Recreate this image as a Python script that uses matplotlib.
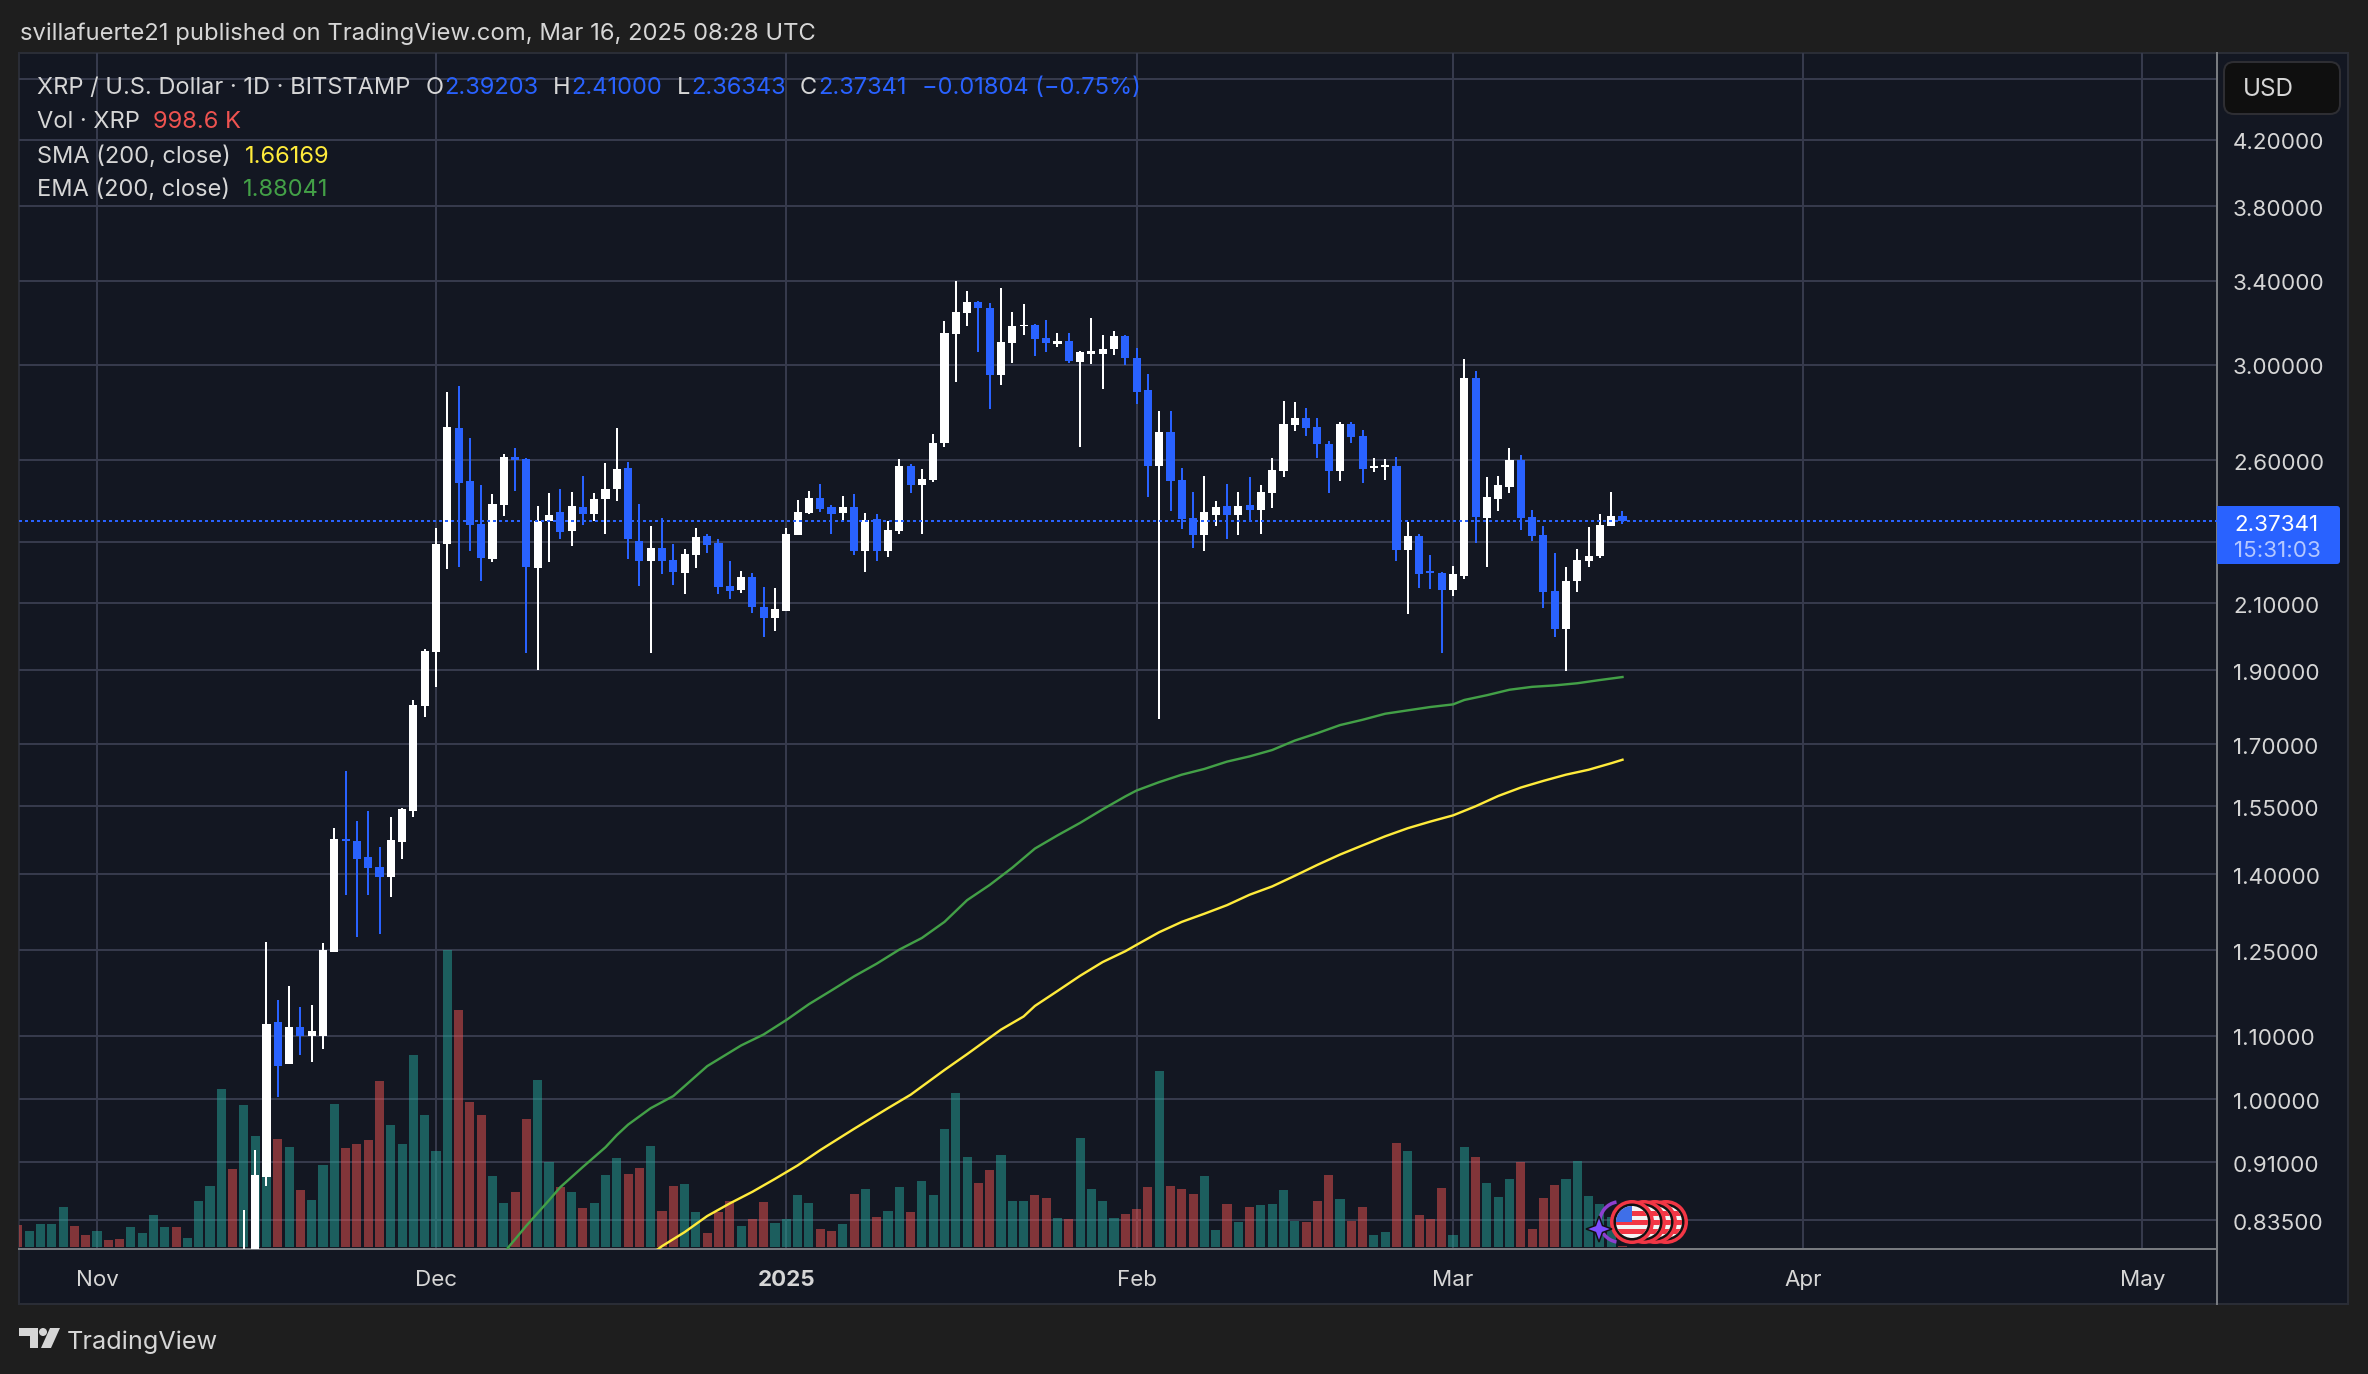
#XRP daily candles, TradingView dark layout
import matplotlib
matplotlib.use("Agg")
import matplotlib.pyplot as plt
from matplotlib.patches import Rectangle, FancyBboxPatch, Polygon, Circle, Wedge
from matplotlib.ticker import NullLocator
from matplotlib.transforms import ScaledTranslation

plt.rcParams["font.family"] = ["Inter", "DejaVu Sans"]

#data, days counted from Nov 1 2024
candle_start = 13
opens = [0.75, 0.78, 0.891, 1.122, 1.055, 1.115, 1.10, 1.10, 1.247, 1.477,
         1.472, 1.436, 1.415, 1.395, 1.47, 1.54, 1.802, 1.953, 2.295, 2.73,
         2.52, 2.365, 2.243, 2.432, 2.612, 2.604, 2.214, 2.373, 2.406, 2.34,
         2.425, 2.40, 2.452, 2.49, 2.57, 2.306, 2.237, 2.28, 2.24, 2.197,
         2.257, 2.323, 2.296, 2.156, 2.142, 2.185, 2.088, 2.055, 2.076, 2.325,
         2.402, 2.457, 2.424, 2.402, 2.424, 2.27, 2.38, 2.27, 2.34, 2.578,
         2.505, 2.523, 2.667, 3.14, 3.24, 3.294, 3.265, 2.953, 3.10, 3.176,
         3.185, 3.122, 3.095, 3.108, 3.013, 3.05, 3.05, 3.07, 3.13, 3.03,
         2.886, 2.578, 2.712, 2.524, 2.384, 2.325, 2.395, 2.428, 2.395, 2.432,
         2.413, 2.477, 2.56, 2.742, 2.771, 2.733, 2.663, 2.56, 2.746, 2.695,
         2.57, 2.574, 2.578, 2.274, 2.322, 2.205, 2.198, 2.143, 2.188, 2.942,
         2.384, 2.454, 2.50, 2.60, 2.388, 2.325, 2.139, 2.02, 2.17, 2.238,
         2.252, 2.355, 2.39203]
highs = [0.848, 0.927, 1.265, 1.16, 1.185, 1.148, 1.152, 1.264, 1.50, 1.634,
         1.516, 1.54, 1.458, 1.525, 1.547, 1.818, 1.962, 2.35, 2.88, 2.906,
         2.688, 2.507, 2.472, 2.624, 2.65, 2.608, 2.43, 2.475, 2.49, 2.48,
         2.54, 2.475, 2.59, 2.73, 2.594, 2.435, 2.355, 2.386, 2.293, 2.277,
         2.35, 2.33, 2.312, 2.238, 2.205, 2.198, 2.152, 2.149, 2.351, 2.45,
         2.483, 2.508, 2.432, 2.465, 2.472, 2.402, 2.399, 2.373, 2.604, 2.585,
         2.567, 2.703, 3.203, 3.40, 3.35, 3.30, 3.29, 3.365, 3.246, 3.284,
         3.19, 3.208, 3.146, 3.146, 3.06, 3.217, 3.136, 3.156, 3.136, 3.073,
         2.957, 2.797, 2.80, 2.57, 2.48, 2.54, 2.445, 2.51, 2.48, 2.535,
         2.505, 2.608, 2.84, 2.838, 2.81, 2.77, 2.675, 2.754, 2.754, 2.72,
         2.608, 2.604, 2.612, 2.37, 2.33, 2.257, 2.20, 2.22, 3.025, 2.97,
         2.537, 2.54, 2.65, 2.62, 2.413, 2.355, 2.265, 2.217, 2.277, 2.352,
         2.398, 2.48, 2.41]
lows = [0.72, 0.76, 0.878, 1.004, 1.055, 1.068, 1.058, 1.078, 1.247, 1.358,
        1.274, 1.358, 1.28, 1.354, 1.432, 1.525, 1.77, 1.852, 2.21, 2.217,
        2.27, 2.172, 2.232, 2.394, 2.485, 1.95, 1.90, 2.234, 2.31, 2.286,
        2.36, 2.375, 2.33, 2.445, 2.243, 2.155, 1.95, 2.195, 2.157, 2.13,
        2.212, 2.265, 2.13, 2.113, 2.133, 2.07, 1.995, 2.013, 2.076, 2.325,
        2.399, 2.406, 2.33, 2.37, 2.257, 2.20, 2.237, 2.25, 2.33, 2.476,
        2.33, 2.516, 2.654, 2.924, 3.18, 3.055, 2.807, 2.91, 3.008, 3.136,
        3.037, 3.055, 3.08, 3.008, 2.654, 3.003, 2.893, 3.045, 2.998, 2.83,
        2.46, 1.767, 2.41, 2.345, 2.28, 2.27, 2.355, 2.31, 2.325, 2.373,
        2.33, 2.42, 2.534, 2.715, 2.695, 2.607, 2.477, 2.52, 2.67, 2.512,
        2.553, 2.523, 2.238, 2.067, 2.149, 2.146, 1.95, 2.122, 2.176, 2.297,
        2.217, 2.41, 2.477, 2.343, 2.304, 2.085, 1.995, 1.897, 2.136, 2.217,
        2.245, 2.355, 2.36343]
closes = [0.79, 0.893, 1.119, 1.052, 1.115, 1.10, 1.107, 1.25, 1.477, 1.472,
          1.432, 1.413, 1.395, 1.474, 1.543, 1.804, 1.956, 2.295, 2.733, 2.512,
          2.36, 2.247, 2.435, 2.612, 2.60, 2.217, 2.376, 2.397, 2.336, 2.43,
          2.40, 2.455, 2.49, 2.566, 2.31, 2.237, 2.28, 2.237, 2.20, 2.26,
          2.32, 2.29, 2.152, 2.14, 2.185, 2.088, 2.055, 2.082, 2.329, 2.406,
          2.457, 2.417, 2.399, 2.424, 2.27, 2.377, 2.27, 2.344, 2.578, 2.505,
          2.527, 2.667, 3.146, 3.246, 3.294, 3.265, 2.953, 3.103, 3.18, 3.185,
          3.117, 3.10, 3.108, 3.017, 3.055, 3.06, 3.07, 3.13, 3.03, 2.878,
          2.578, 2.712, 2.52, 2.38, 2.325, 2.405, 2.424, 2.395, 2.428, 2.413,
          2.48, 2.563, 2.746, 2.771, 2.73, 2.663, 2.56, 2.746, 2.692, 2.567,
          2.578, 2.582, 2.274, 2.322, 2.195, 2.198, 2.143, 2.192, 2.942, 2.388,
          2.461, 2.505, 2.60, 2.384, 2.322, 2.136, 2.02, 2.17, 2.24, 2.255,
          2.36, 2.392, 2.37341]

volume_start = -7
volumes = [22, 16, 23, 23, 40, 21, 12, 16, 7, 8,
           20, 14, 32, 20, 20, 9, 46, 61, 158, 78,
           142, 111, 130, 108, 100, 57, 47, 82, 143, 99,
           103, 107, 166, 122, 103, 192, 132, 96, 297, 237,
           145, 132, 71, 44, 55, 128, 167, 85, 60, 55,
           39, 44, 72, 89, 73, 79, 101, 36, 61, 63,
           35, 14, 35, 46, 21, 28, 45, 24, 28, 52,
           44, 18, 16, 23, 53, 58, 30, 36, 60, 35,
           66, 52, 118, 154, 90, 64, 77, 92, 46, 46,
           52, 49, 29, 28, 109, 58, 46, 29, 33, 38,
           60, 176, 61, 58, 53, 71, 17, 43, 25, 40,
           42, 43, 57, 26, 25, 46, 72, 48, 26, 40,
           12, 15, 104, 96, 32, 28, 59, 12, 100, 90,
           64, 50, 68, 85, 18, 49, 62, 68, 86, 51,
           43, 30, 1]
volume_sides = ("rggggrrgrr" "ggggrggggr" "gggrgrgggr" "rrrggggggr" "rrggrrggrg"
                "rgggrrgrrg" "grrrgrrggg" "grrgrgrggr" "gggggrrggg" "rrgrggggrr"
                "rgrrrggrgr" "ggggrrrgrr" "ggrgrrrggr" "gggrrrrggg" "ggr")

ema_days = [36, 38, 40, 41, 43, 45, 46, 47, 49, 51, 54, 57, 59, 61, 63, 65, 67, 69, 71, 73,
            75, 77, 79, 81, 83, 85, 87, 89, 91, 92, 94, 96, 98, 100, 102, 104, 106, 108, 110, 112,
            114, 116, 118, 120, 121, 123, 125, 127, 129, 131, 133, 135]
ema_values = [0.795, 0.828, 0.860, 0.877, 0.904, 0.931, 0.948, 0.963, 0.987, 1.005,
              1.051, 1.084, 1.102, 1.126, 1.153, 1.177, 1.202, 1.225, 1.251, 1.273,
              1.304, 1.347, 1.378, 1.414, 1.455, 1.484, 1.512, 1.543, 1.573, 1.587,
              1.607, 1.625, 1.639, 1.657, 1.67, 1.686, 1.71, 1.729, 1.75, 1.764,
              1.78, 1.789, 1.798, 1.805, 1.817, 1.83, 1.845, 1.853, 1.857, 1.863,
              1.872, 1.88041]

sma_days = [49, 50, 52, 54, 56, 58, 60, 62, 64, 67, 70, 72, 75, 77, 80, 82, 83, 85, 87, 89,
            91, 92, 94, 96, 98, 100, 102, 104, 106, 108, 110, 112, 114, 116, 118, 120, 122, 124, 126, 128,
            130, 132, 134, 135]
sma_values = [0.793, 0.803, 0.820, 0.840, 0.856, 0.871, 0.888, 0.906, 0.927, 0.957,
              0.987, 1.007, 1.045, 1.070, 1.11, 1.132, 1.15, 1.176, 1.203, 1.228,
              1.248, 1.26, 1.284, 1.304, 1.32, 1.337, 1.358, 1.375, 1.397, 1.42,
              1.442, 1.462, 1.482, 1.50, 1.515, 1.529, 1.55, 1.574, 1.594, 1.61,
              1.625, 1.637, 1.653, 1.66169]

last_price = 2.37341
price_ticks = [4.6, 4.2, 3.8, 3.4, 3.0, 2.6, 2.3, 2.1, 1.9, 1.7, 1.55, 1.4, 1.25, 1.1, 1.0, 0.91, 0.835]
price_labels = ["", "4.20000", "3.80000", "3.40000", "3.00000", "2.60000", "", "2.10000", "1.90000",
                "1.70000", "1.55000", "1.40000", "1.25000", "1.10000", "1.00000", "0.91000", "0.83500"]
month_days = [0, 30, 61, 92, 120, 151, 181]
month_labels = ["Nov", "Dec", "2025", "Feb", "Mar", "Apr", "May"]

#colours
OUTER = "#1e1e1e"
PANE = "#131722"
GRID = "#363a4c"
EDGE = "#2a2d36"
AXIS = "#787b80"
TEXT = "#d6d6d6"
BLUE = "#2962ff"
WHITE = "#ffffff"
TEAL = "#26a69a"
RED = "#ef5350"
SMA_COL = "#ffeb3b"
EMA_COL = "#43a047"
W, H = 2368, 1374
PX = 0.72  #one pixel in points at dpi 100

fig = plt.figure(figsize=(W / 100, H / 100), dpi=100, facecolor=OUTER)

#pane background, in pixel coordinates
under = fig.add_axes([0, 0, 1, 1], zorder=0)
under.set_xlim(0, W)
under.set_ylim(H, 0)
under.axis("off")
under.add_patch(Rectangle((19, 53), 2329, 1251, facecolor=PANE, edgecolor=EDGE, lw=2 * PX))

#price pane
L, T, R, B = 19, 53, 2217, 1249
ax = fig.add_axes([L / W, 1 - B / H, (R - L) / W, (B - T) / H], zorder=1)
ax.patch.set_visible(False)
ax.set_axisbelow(True)

candle_days = list(range(candle_start, candle_start + len(opens)))
volume_days = list(range(volume_start, volume_start + len(volumes)))

#volume bars sit on the bottom of the pane on their own linear scale
pane_h = B - T
vol_y = [v / pane_h for v in volumes]
vol_cols = [TEAL if s == "g" else RED for s in volume_sides]
ax.bar(volume_days, vol_y, bottom=2 / pane_h, width=0.8, color=vol_cols, alpha=0.5,
       transform=ax.get_xaxis_transform(), zorder=2)

#candles
for d, o, h, l, c in zip(candle_days, opens, highs, lows, closes):
    col = WHITE if c >= o else BLUE
    ax.vlines(d, l, h, color=col, lw=2 * PX, zorder=3)
    ax.bar(d, abs(c - o), bottom=min(o, c), width=0.71, color=col, zorder=3)

ax.plot(ema_days, ema_values, color=EMA_COL, lw=2.4 * PX, zorder=4)
ax.plot(sma_days, sma_values, color=SMA_COL, lw=2.4 * PX, zorder=4)
ax.axhline(last_price, color=BLUE, lw=2 * PX, ls=(0, (1.5, 1.5)), zorder=5)

ax.set_yscale("log")
ax.set_xlim((L - 97) / 11.3, (R - 97) / 11.3)
ax.set_ylim(0.7996, 4.78)
ax.set_yticks(price_ticks)
ax.set_yticklabels(price_labels)
ax.yaxis.set_minor_locator(NullLocator())
ax.yaxis.tick_right()
ax.set_xticks(month_days)
ax.set_xticklabels(month_labels)
ax.get_xticklabels()[2].set_fontweight("bold")
ax.grid(True, color=GRID, lw=2 * PX)
ax.tick_params(axis="both", length=0, labelsize=16.1, labelcolor=TEXT)
ax.tick_params(axis="y", pad=11.5)
ax.tick_params(axis="x", pad=15)
shift = ScaledTranslation(0, -1.5 / 100, fig.dpi_scale_trans)
for tl in ax.get_yticklabels():
    tl.set_transform(tl.get_transform() + shift)
for side in ["top", "left"]:
    ax.spines[side].set_visible(False)
for side in ["right", "bottom"]:
    ax.spines[side].set_color(AXIS)
    ax.spines[side].set_linewidth(2 * PX)

#everything laid over the chart, in pixel coordinates
top = fig.add_axes([0, 0, 1, 1], zorder=2)
top.set_xlim(0, W)
top.set_ylim(H, 0)
top.axis("off")
top.patch.set_visible(False)

top.plot([2217, 2217], [1249, 1304], color=AXIS, lw=2 * PX)


def label(x, y, s, color=TEXT, size=17, **kw):
    top.text(x, y + 2, s, color=color, fontsize=size, va="center", ha="left", **kw)


label(20, 32, "svillafuerte21 published on TradingView.com, Mar 16, 2025 08:28 UTC", size=17.15)
label(37, 86, "XRP / U.S. Dollar · 1D · BITSTAMP")
label(426, 86, "O")
label(444, 86, "2.39203", BLUE)
label(553, 86, "H")
label(571, 86, "2.41000", BLUE)
label(677, 86, "L")
label(691, 86, "2.36343", BLUE)
label(800, 86, "C")
label(818, 86, "2.37341", BLUE)
label(922, 86, "−0.01804 (−0.75%)", BLUE)
label(37, 120, "Vol · XRP")
label(153, 120, "998.6 K", RED)
label(37, 155, "SMA (200, close)")
label(245, 155, "1.66169", SMA_COL)
label(37, 188, "EMA (200, close)")
label(243, 188, "1.88041", EMA_COL)

#currency button and last price tag
top.add_patch(FancyBboxPatch((2228, 66), 108, 44, boxstyle="round,pad=4,rounding_size=10",
                             facecolor="#0f0f0f", edgecolor="#2e2e33", lw=2 * PX, zorder=3))
label(2243, 88, "USD", size=17.5, zorder=4)
top.add_patch(FancyBboxPatch((2219, 508), 119, 54, boxstyle="round,pad=2,rounding_size=3",
                             facecolor=BLUE, edgecolor="none", zorder=3))
top.add_patch(Rectangle((2217, 506), 8, 58, facecolor=BLUE, edgecolor="none", zorder=3))
label(2234, 523, "2.37341", WHITE, size=16.1, zorder=4)
label(2234, 549, "15:31:03", "#b4c8ff", size=16.1, zorder=4)

#event markers at the last bars, back coin first
top.add_patch(Wedge((1620, 1222), 22, 100, 260, width=3.5, facecolor="#8e3fd0", edgecolor="none", zorder=5))
for cx in [1666, 1655, 1644, 1632]:
    top.add_patch(Circle((cx, 1222), 22, facecolor="#f23645", edgecolor="none", zorder=6))
    top.add_patch(Circle((cx, 1222), 18.5, facecolor="#111111", edgecolor="none", zorder=6))
    flag = Circle((cx, 1222), 16, facecolor="#f4f4f4", edgecolor="none", zorder=6)
    top.add_patch(flag)
    for i in range(3):
        stripe = Rectangle((cx - 16, 1211 + i * 9), 32, 4.5, facecolor="#f23645", edgecolor="none", zorder=6)
        top.add_patch(stripe)
        stripe.set_clip_path(flag)
canton = Rectangle((1616, 1206), 16, 16, facecolor="#3f6fe8", edgecolor="none", zorder=6)
top.add_patch(canton)
canton.set_clip_path(Circle((1632, 1222), 16, transform=top.transData))
top.add_patch(Polygon([(1599, 1216), (1602.5, 1225.5), (1612, 1229), (1602.5, 1232.5), (1599, 1242),
                       (1595.5, 1232.5), (1586, 1229), (1595.5, 1225.5)],
                      facecolor="#7c4dff", edgecolor="#111111", lw=1.5 * PX, zorder=8))

#footer logo
top.add_patch(Polygon([(19, 1328), (38, 1328), (38, 1348), (30, 1348), (30, 1336), (19, 1336)],
                      facecolor=TEXT, edgecolor="none"))
top.add_patch(Circle((43, 1332), 4, facecolor=TEXT, edgecolor="none"))
top.add_patch(Polygon([(50, 1328), (60, 1328), (51, 1348), (41, 1348)], facecolor=TEXT, edgecolor="none"))
label(67, 1340, "TradingView", size=18.2)

plt.savefig("out.png", dpi=100, facecolor=OUTER)
